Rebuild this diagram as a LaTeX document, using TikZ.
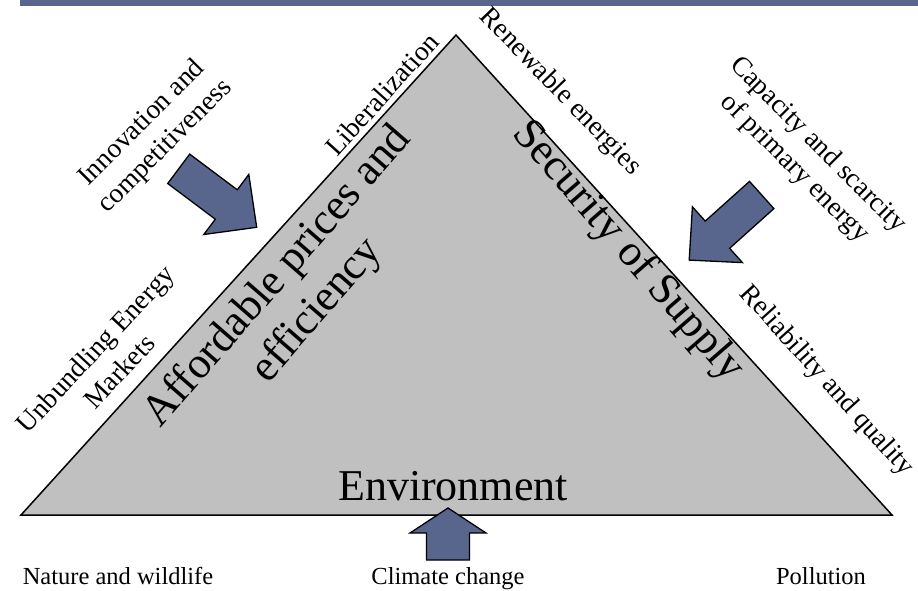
\documentclass[tikz,border=0pt]{standalone}
\usepackage{fontspec}
\setmainfont{Liberation Serif}
\definecolor{slateblue}{RGB}{88,102,142}
\definecolor{trigray}{RGB}{192,192,192}
\tikzset{
  small label/.style={font=\fontsize{24.5}{29}\selectfont, align=center, inner sep=0pt},
  side label/.style={font=\fontsize{27.5}{33}\selectfont, align=center, inner sep=0pt},
  big label/.style={font=\fontsize{44}{52}\selectfont, align=center, inner sep=0pt},
  fat arrow/.style={draw=black, fill=slateblue, line width=1.3pt, line join=miter},
}

\begin{document}
\begin{tikzpicture}[x=1pt, y=-1pt]
	\useasboundingbox (0,0) rectangle (918,591);
	% header bar
	\fill[slateblue] (20,0) rectangle (918,6);

	% the triangle
	\draw[fill=trigray, line width=1.5pt, line join=miter] (21,515) -- (456,35) -- (892,515) -- cycle;

	% arrows pointing at the sides
	\draw[fat arrow] (189.7,154.1) -- (237.3,189.8) -- (248.8,174.5) -- (256.7,227.3)
		-- (203.8,234.5) -- (215.3,219.2) -- (167.7,183.5) -- cycle;
	\draw[fat arrow] (749.5,181.4) -- (773.9,208.6) -- (729.6,248.3) -- (742.4,262.6)
		-- (689.2,260.1) -- (692.4,206.8) -- (705.2,221.1) -- cycle;
	\draw[fat arrow] (448,508) -- (486,533) -- (469.5,533) -- (469.5,560)
		-- (426.5,560) -- (426.5,533) -- (410,533) -- cycle;

	% the three goals
	\node[big label, rotate=49] (afford) at (298,294) {Affordable prices and\\efficiency};
	\node[big label, rotate=-49] (supply) at (628,252) {Security of Supply};
	\node[big label, anchor=base] (envir) at (453,500) {Environment};

	% drivers round the triangle
	\node[side label, rotate=48] (liberal) at (382,94) {Liberalization};
	\node[side label, rotate=-46] (renew) at (560,92) {Renewable energies};
	\node[side label, rotate=45] (innov) at (154,135) {Innovation and\\competitiveness};
	\node[side label, rotate=-45] (capac) at (806,157) {Capacity and scarcity\\of primary energy};
	\node[side label, rotate=47] (unbund) at (107,360) {Unbundling Energy\\Markets};
	\node[side label, rotate=-48] (reliab) at (826,381) {Reliability and quality};

	\node[small label, anchor=base] (nature) at (118,584) {Nature and wildlife};
	\node[small label, anchor=base] (climate) at (448,584) {Climate change};
	\node[small label, anchor=base] (pollut) at (821,584) {Pollution};
\end{tikzpicture}
\end{document}
